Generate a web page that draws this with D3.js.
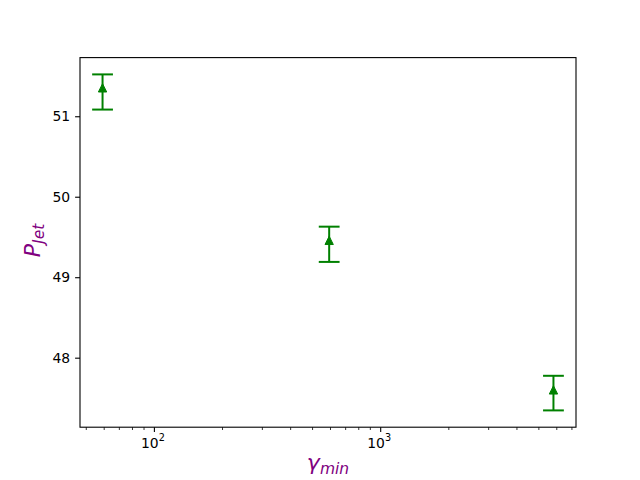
<!DOCTYPE html>
<html>
<head>
<meta charset="utf-8">
<script src="https://cdn.jsdelivr.net/npm/d3@7"></script>
<style>
  body { margin: 0; background: #fff; }
  svg { display: block; font-family: "DejaVu Sans", sans-serif; }
</style>
</head>
<body>
<div id="chart"></div>
<script>
// data
const gammaMin = [59, 592, 5800];
const pJet = [51.353, 49.458, 47.60];
const errUp = [0.167, 0.17, 0.175];
const errDown = [0.27, 0.268, 0.255];

const yTicks = [48, 49, 50, 51];
const xMajor = [100, 1000];
const xMinor = [50, 60, 70, 80, 90, 200, 300, 400, 500, 600, 700, 800, 900,
                2000, 3000, 4000, 5000, 6000, 7000];

const W = 640, H = 480;
const margin = { top: 57.6, right: 64, bottom: 52.8, left: 80 };
const width = W - margin.left - margin.right;
const height = H - margin.top - margin.bottom;

const green = "#008000";
const purple = "#800080";

const svg = d3.select("#chart").append("svg")
  .attr("width", W)
  .attr("height", H);

const g = svg.append("g")
  .attr("transform", `translate(${margin.left},${margin.top})`);

// matplotlib style 5% padding
const lx = d3.extent(gammaMin, d => Math.log10(d));
const padX = (lx[1] - lx[0]) * 0.05;
const x = d3.scaleLog()
  .domain([Math.pow(10, lx[0] - padX), Math.pow(10, lx[1] + padX)])
  .range([0, width]);

const lo = d3.min(pJet.map((d, i) => d - errDown[i]));
const hi = d3.max(pJet.map((d, i) => d + errUp[i]));
const padY = (hi - lo) * 0.05;
const y = d3.scaleLinear()
  .domain([lo - padY, hi + padY])
  .range([height, 0]);

const points = gammaMin.map((d, i) => ({
  x: d, y: pJet[i], up: pJet[i] + errUp[i], down: pJet[i] - errDown[i]
}));

// error bars
const cap = 10.4;
const eb = g.selectAll(".eb").data(points).enter().append("g").attr("class", "eb");
eb.append("line")
  .attr("x1", d => x(d.x)).attr("x2", d => x(d.x))
  .attr("y1", d => y(d.up)).attr("y2", d => y(d.down))
  .attr("stroke", green).attr("stroke-width", 2);
eb.append("line")
  .attr("x1", d => x(d.x) - cap).attr("x2", d => x(d.x) + cap)
  .attr("y1", d => y(d.up)).attr("y2", d => y(d.up))
  .attr("stroke", green).attr("stroke-width", 2);
eb.append("line")
  .attr("x1", d => x(d.x) - cap).attr("x2", d => x(d.x) + cap)
  .attr("y1", d => y(d.down)).attr("y2", d => y(d.down))
  .attr("stroke", green).attr("stroke-width", 2);

// triangle markers
const s = 4.17;
eb.append("path")
  .attr("d", d => {
    const cx = x(d.x), cy = y(d.y);
    return `M${cx},${cy - s}L${cx - s},${cy + s}L${cx + s},${cy + s}Z`;
  })
  .attr("fill", green)
  .attr("stroke", green)
  .attr("stroke-width", 1);

// y axis
const yAxis = g.append("g")
  .call(d3.axisLeft(y).tickValues(yTicks).tickSize(4.9).tickPadding(4.9).tickFormat(d3.format("d")));
yAxis.select(".domain").remove();
yAxis.selectAll("line").attr("stroke", "#000").attr("stroke-width", 1.1);
yAxis.selectAll("text").attr("font-size", 13.9).attr("fill", "#000")
  .attr("font-family", "DejaVu Sans");

// x axis, major and minor ticks
const xg = g.append("g").attr("transform", `translate(0,${height})`);
xg.selectAll(".minor").data(xMinor.filter(v => v >= x.domain()[0] && v <= x.domain()[1]))
  .enter().append("line")
  .attr("x1", d => x(d)).attr("x2", d => x(d))
  .attr("y1", 0).attr("y2", 2.8)
  .attr("stroke", "#000").attr("stroke-width", 0.8);
xg.selectAll(".major").data(xMajor).enter().append("line")
  .attr("x1", d => x(d)).attr("x2", d => x(d))
  .attr("y1", 0).attr("y2", 4.9)
  .attr("stroke", "#000").attr("stroke-width", 1.1);
const xl = xg.selectAll(".lbl").data(xMajor).enter().append("text")
  .attr("x", d => x(d) - 1.5)
  .attr("y", 21)
  .attr("text-anchor", "middle")
  .attr("font-size", 13.9)
  .attr("fill", "#000");
xl.append("tspan").text("10");
xl.append("tspan").attr("dy", -7).attr("font-size", 9.7)
  .text(d => Math.round(Math.log10(d)));

// frame
g.append("rect")
  .attr("width", width).attr("height", height)
  .attr("fill", "none").attr("stroke", "#000").attr("stroke-width", 1.1);

// axis labels
const xLabel = svg.append("text")
  .attr("x", margin.left + width / 2)
  .attr("y", 469.5)
  .attr("text-anchor", "middle")
  .attr("fill", purple)
  .attr("font-size", 22)
  .attr("font-style", "italic");
xLabel.append("tspan").text("γ");
xLabel.append("tspan").attr("dy", 4).attr("font-size", 15.5).text("min");

const yLabel = svg.append("text")
  .attr("transform", `translate(40,${margin.top + height / 2 - 2}) rotate(-90)`)
  .attr("text-anchor", "middle")
  .attr("fill", purple)
  .attr("font-size", 22)
  .attr("font-style", "italic");
yLabel.append("tspan").text("P");
yLabel.append("tspan").attr("dy", 3.5).attr("font-size", 15.5).text("Jet");
</script>
</body>
</html>
